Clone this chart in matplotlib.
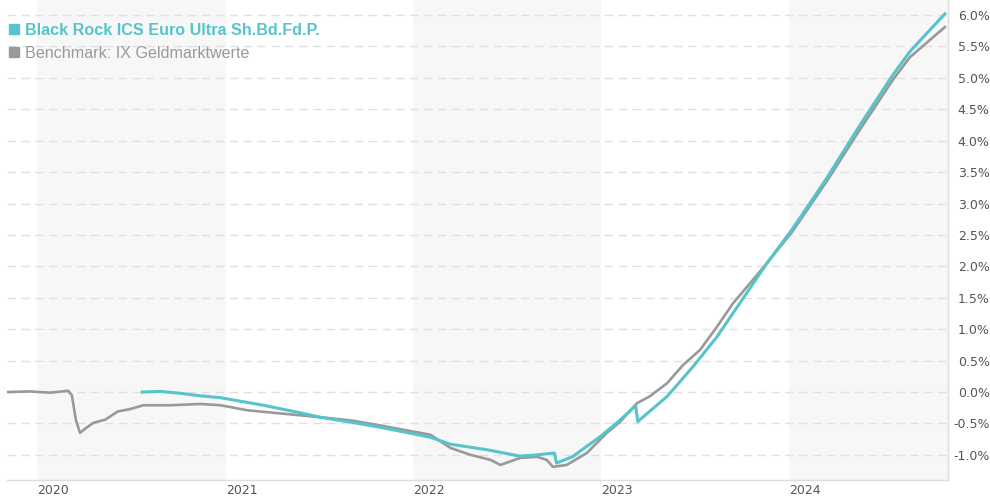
import matplotlib
matplotlib.use('Agg')
import matplotlib.pyplot as plt
from matplotlib.lines import Line2D
import pandas as pd

fund_name = 'Black Rock ICS Euro Ultra Sh.Bd.Fd.P.'
bench_name = 'Benchmark: IX Geldmarktwerte'

bench_dates = ['2019-11-03', '2019-12-17', '2020-01-26', '2020-03-01', '2020-03-08',
               '2020-03-16', '2020-03-24', '2020-04-05', '2020-04-19', '2020-05-12',
               '2020-06-05', '2020-06-30', '2020-07-25', '2020-09-16', '2020-11-13',
               '2020-12-22', '2021-02-12', '2021-04-17', '2021-07-03', '2021-08-31',
               '2021-10-28', '2022-02-03', '2022-03-14', '2022-04-22', '2022-05-31',
               '2022-06-19', '2022-07-27', '2022-08-29', '2022-09-17', '2022-09-29',
               '2022-10-26', '2022-12-04', '2023-01-12', '2023-02-06', '2023-03-11',
               '2023-04-05', '2023-05-09', '2023-06-09', '2023-07-12', '2023-08-14',
               '2023-09-14', '2023-10-17', '2023-11-19', '2024-01-08', '2024-03-14',
               '2024-05-18', '2024-07-21', '2024-08-23', '2024-10-30']
bench_values = [0.00, 0.01, -0.01, 0.02, -0.05,
                -0.45, -0.65, -0.57, -0.49, -0.44,
                -0.31, -0.27, -0.21, -0.21, -0.19,
                -0.21, -0.29, -0.34, -0.40, -0.45,
                -0.53, -0.68, -0.89, -1.00, -1.08,
                -1.16, -1.05, -1.03, -1.08, -1.19,
                -1.16, -0.97, -0.65, -0.48, -0.18,
                -0.07, 0.14, 0.43, 0.67, 1.04,
                1.41, 1.73, 2.05, 2.56, 3.35,
                4.18, 4.97, 5.33, 5.81]

fund_dates = ['2020-07-23', '2020-08-27', '2020-10-05', '2020-11-13', '2020-12-22',
              '2021-03-15', '2021-05-20', '2021-07-03', '2021-08-25', '2021-10-28',
              '2022-02-03', '2022-03-14', '2022-05-25', '2022-07-27', '2022-08-29',
              '2022-10-02', '2022-10-06', '2022-11-06', '2022-12-30', '2023-02-06',
              '2023-03-09', '2023-03-13', '2023-05-09', '2023-06-28', '2023-08-14',
              '2023-09-27', '2023-11-19', '2024-01-08', '2024-03-14', '2024-05-18',
              '2024-07-21', '2024-08-23', '2024-10-30']
fund_values = [0.00, 0.01, -0.02, -0.06, -0.09,
               -0.21, -0.32, -0.40, -0.47, -0.56,
               -0.72, -0.83, -0.92, -1.02, -1.00,
               -0.97, -1.13, -1.03, -0.71, -0.45,
               -0.22, -0.47, -0.07, 0.40, 0.88,
               1.41, 2.05, 2.60, 3.40, 4.25,
               5.05, 5.42, 6.02]

years = [2020, 2021, 2022, 2023, 2024]
y_ticks = [-1.0, -0.5, 0.0, 0.5, 1.0, 1.5, 2.0, 2.5, 3.0, 3.5, 4.0, 4.5, 5.0, 5.5, 6.0]

teal = '#55c4cc'
grey = '#999999'

fig = plt.figure(figsize=(9.9, 5.0), dpi=100)
ax = fig.add_axes([7 / 990, 20 / 500, 941 / 990, 480 / 500])

x_start = pd.Timestamp('2019-11-03')
x_end = pd.Timestamp('2024-11-05')

# shaded alternating year bands
for y in years[::2]:
    ax.axvspan(pd.Timestamp(f'{y}-01-01'), min(pd.Timestamp(f'{y + 1}-01-01'), x_end),
               color='#f7f7f7', lw=0, zorder=0)

for t in y_ticks:
    ax.axhline(t, color='#e0e0e0', lw=1, ls=(0, (6, 4)), zorder=1)

ax.plot(pd.to_datetime(bench_dates), bench_values, color=grey, lw=1.9, zorder=3,
        solid_joinstyle='round')
ax.plot(pd.to_datetime(fund_dates), fund_values, color=teal, lw=2.2, zorder=4,
        solid_joinstyle='round')

ax.set_xlim(x_start, x_end)
ax.set_ylim(-1.40, 6.24)

ax.set_xticks([pd.Timestamp(f'{y}-01-01') for y in years])
ax.set_xticklabels([str(y) for y in years], ha='left', color='#555555', fontsize=9)
ax.tick_params(axis='x', length=0, pad=3)

ax.yaxis.tick_right()
ax.set_yticks(y_ticks)
ax.set_yticklabels([f'{t:.1f}%' for t in y_ticks], ha='right', color='#555555', fontsize=9)
ax.tick_params(axis='y', length=0, pad=30)

for s in ['left', 'top']:
    ax.spines[s].set_visible(False)
for s in ['bottom', 'right']:
    ax.spines[s].set_color('#dddddd')
    ax.spines[s].set_linewidth(1)

handles = [Line2D([], [], ls='none', marker='s', color=teal, markersize=7),
           Line2D([], [], ls='none', marker='s', color=grey, markersize=7)]
leg = ax.legend(handles, [fund_name, bench_name], loc='upper left',
                bbox_to_anchor=(2 / 941, 1 - 23 / 480), frameon=False,
                handlelength=0.6, handletextpad=0.4, labelspacing=0.5,
                borderaxespad=0, borderpad=0,
                prop={'family': 'Liberation Sans', 'size': 11.6})
leg.get_texts()[0].set_color(teal)
leg.get_texts()[0].set_fontweight('bold')
leg.get_texts()[1].set_color(grey)

fig.savefig('out.png', dpi=100)
